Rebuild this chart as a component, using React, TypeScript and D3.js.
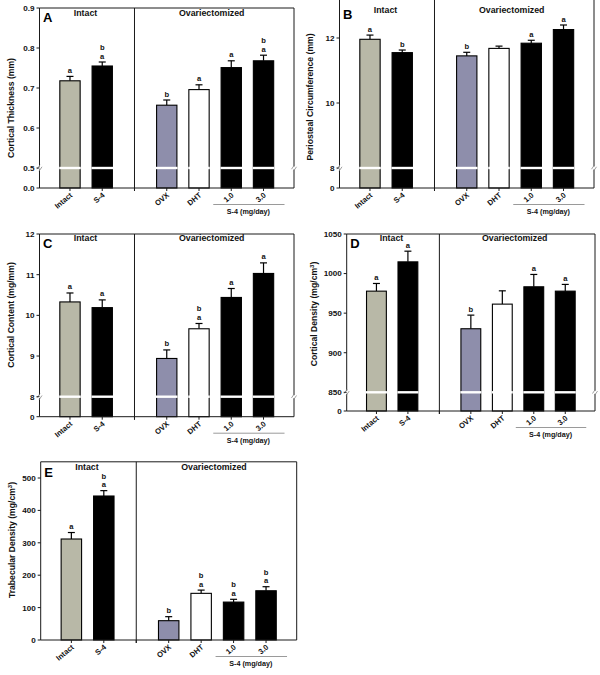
import React from "react";
import * as d3 from "d3";

// ---------- data ----------
const categories = ["Intact", "S-4", "OVX", "DHT", "1.0", "3.0"];
const slots = ["Intact", "S-4", "gap", "OVX", "DHT", "1.0", "3.0"];

const thicknessMean = [0.718, 0.755, 0.657, 0.696, 0.751, 0.768];
const thicknessErr = [0.011, 0.01, 0.013, 0.012, 0.017, 0.014];
const thicknessLetters = [["a"], ["b", "a"], ["b"], ["a"], ["a"], ["b", "a"]];

const periostealMean = [11.96, 11.55, 11.45, 11.68, 11.84, 12.26];
const periostealErr = [0.13, 0.08, 0.11, 0.07, 0.09, 0.14];
const periostealLetters = [["a"], ["b"], ["b"], [], ["a"], ["a"]];

const contentMean = [10.33, 10.19, 8.94, 9.67, 10.44, 11.03];
const contentErr = [0.22, 0.19, 0.21, 0.13, 0.22, 0.26];
const contentLetters = [["a"], ["a"], ["b"], ["b", "a"], ["a"], ["a"]];

const densityMean = [977.8, 1014.8, 930.3, 961.4, 983.3, 977.8];
const densityErr = [9.7, 13.5, 17.2, 16.8, 15.6, 8.5];
const densityLetters = [["a"], ["a"], ["b"], [], ["a"], ["a"]];

const trabMean = [311.7, 444.4, 59.6, 144, 117, 152];
const trabErr = [20, 16.6, 12.4, 10, 8.6, 12.5];
const trabLetters = [["a"], ["b", "a"], ["b"], ["b", "a"], ["b", "a"], ["b", "a"]];

const thicknessTicks = [0.5, 0.6, 0.7, 0.8, 0.9];
const periostealTicks = [8, 10, 12];
const contentTicks = [8, 9, 10, 11, 12];
const densityTicks = [850, 900, 950, 1000, 1050];
const trabTicks = [0, 100, 200, 300, 400, 500];

const groupHeaders = ["Intact", "Ovariectomized"];
const doseLabel = "S-4 (mg/day)";

// ---------- style ----------
const FONT = "'Liberation Sans', Arial, Helvetica, sans-serif";
const barFills = ["#b8b8a7", "#000000", "#8e8eab", "#ffffff", "#000000", "#000000"];

type Cfg = {
  letter: string;
  left: number;
  right: number;
  top: number;
  bottom: number;
  breakY?: number;
  breakVal?: number;
  topVal: number;
  ticks: number[];
  fmt: (v: number) => string;
  yLabel: React.ReactNode;
  yLabelX: number;
  yLabelY: number;
  mean: number[];
  err: number[];
  letters: string[][];
  drawTop: boolean;
  headerY: number;
  letterY: number;
};

function Panel({ cfg }: { cfg: Cfg }) {
  const x = d3
    .scaleBand<string>()
    .domain(slots)
    .range([cfg.left, cfg.right])
    .paddingInner(0.37)
    .paddingOuter(0.63);
  const bw = x.bandwidth();
  const cx = (s: string) => (x(s) as number) + bw / 2;
  const hasBreak = cfg.breakVal !== undefined;
  const upper = d3
    .scaleLinear()
    .domain([hasBreak ? (cfg.breakVal as number) : 0, cfg.topVal])
    .range([hasBreak ? (cfg.breakY as number) : cfg.bottom, cfg.top]);
  const lower = d3
    .scaleLinear()
    .domain([0, hasBreak ? (cfg.breakVal as number) : 1])
    .range([cfg.bottom, hasBreak ? (cfg.breakY as number) : cfg.bottom]);
  const y = (v: number) => (hasBreak && v < (cfg.breakVal as number) ? lower(v) : upper(v));

  const tickVals = hasBreak ? [0, ...cfg.ticks] : cfg.ticks;
  const gapX = cx("gap");
  const axisColor = "#1a1a1a";

  const breakMarks = (ax: number) =>
    hasBreak ? (
      <g>
        <rect x={ax - 1.5} y={(cfg.breakY as number) - 1.5} width={3} height={3} fill="#fff" />
        <line x1={ax - 2.5} y1={(cfg.breakY as number) + 1.2} x2={ax + 0.5} y2={(cfg.breakY as number) - 3.2} stroke="#888" strokeWidth={0.8} />
        <line x1={ax - 0.5} y1={(cfg.breakY as number) + 3.2} x2={ax + 2.5} y2={(cfg.breakY as number) - 1.2} stroke="#888" strokeWidth={0.8} />
      </g>
    ) : null;

  const d10 = cx("1.0");
  const d30 = cx("3.0");

  return (
    <g fontFamily={FONT}>
      {/* bars */}
      {categories.map((c, i) => {
        const bx = x(c) as number;
        const top = y(cfg.mean[i]);
        const etop = y(cfg.mean[i] + cfg.err[i]);
        const mid = bx + bw / 2;
        const lets = cfg.letters[i];
        return (
          <g key={c}>
            <line x1={mid} x2={mid} y1={top} y2={etop} stroke="#000" strokeWidth={1.2} />
            <line x1={mid - 3.5} x2={mid + 3.5} y1={etop} y2={etop} stroke="#000" strokeWidth={1.2} />
            <rect x={bx} y={top} width={bw} height={cfg.bottom - top} fill={barFills[i]} stroke="#000" strokeWidth={1.1} />
            {hasBreak && (
              <rect x={bx - 0.6} y={(cfg.breakY as number) - 1.2} width={bw + 1.2} height={2.4} fill="#fff" />
            )}
            {lets
              .slice()
              .reverse()
              .map((l, k) => (
                <text key={k} x={mid} y={etop - 3.5 - k * 8.6} fontSize={7.6} fontWeight="bold" textAnchor="middle" fill="#111">
                  {l}
                </text>
              ))}
          </g>
        );
      })}
      {/* frame */}
      <line x1={cfg.left} x2={cfg.left} y1={cfg.top} y2={cfg.bottom} stroke={axisColor} strokeWidth={1} />
      <line x1={cfg.right} x2={cfg.right} y1={cfg.top} y2={cfg.bottom} stroke={axisColor} strokeWidth={1} />
      <line x1={cfg.left} x2={cfg.right} y1={cfg.bottom} y2={cfg.bottom} stroke={axisColor} strokeWidth={1} />
      {cfg.drawTop && <line x1={cfg.left} x2={cfg.right} y1={cfg.top} y2={cfg.top} stroke={axisColor} strokeWidth={1} />}
      <line x1={gapX} x2={gapX} y1={cfg.top} y2={cfg.bottom + 3} stroke={axisColor} strokeWidth={1} />
      {breakMarks(cfg.left)}
      {breakMarks(cfg.right)}
      {/* y ticks */}
      {tickVals.map((t) => (
        <g key={t}>
          <line x1={cfg.left - 3} x2={cfg.left} y1={y(t)} y2={y(t)} stroke={axisColor} strokeWidth={1} />
          <text x={cfg.left - 5} y={y(t) + 2.9} fontSize={8.1} fontWeight="bold" textAnchor="end" fill="#111">
            {cfg.fmt(t)}
          </text>
        </g>
      ))}
      {/* x ticks & labels */}
      {slots.map((s) => (
        <line key={s} x1={cx(s)} x2={cx(s)} y1={cfg.bottom} y2={cfg.bottom + 3} stroke={axisColor} strokeWidth={1} />
      ))}
      {categories.map((c) => (
        <text
          key={c}
          transform={`translate(${cx(c) + 3},${cfg.bottom + 8}) rotate(-40)`}
          fontSize={7.6}
          fontWeight="bold"
          textAnchor="end"
          fill="#111"
        >
          {c}
        </text>
      ))}
      <line x1={d10 - 18} x2={d30 + 21} y1={cfg.bottom + 16.5} y2={cfg.bottom + 16.5} stroke="#9a9a9a" strokeWidth={1} />
      <text x={(d10 + d30) / 2 + 1} y={cfg.bottom + 26} fontSize={7.2} fontWeight="bold" textAnchor="middle" fill="#111">
        {doseLabel}
      </text>
      {/* headers */}
      <text x={(cfg.left + gapX) / 2 - 1.5} y={cfg.headerY} fontSize={8.8} fontWeight="bold" textAnchor="middle" fill="#111">
        {groupHeaders[0]}
      </text>
      <text x={(gapX + cfg.right) / 2 - 2.5} y={cfg.headerY} fontSize={8.8} fontWeight="bold" textAnchor="middle" fill="#111">
        {groupHeaders[1]}
      </text>
      <text x={cfg.left + 3.5} y={cfg.letterY} fontSize={13} fontWeight="bold" fill="#000">
        {cfg.letter}
      </text>
      {/* y label */}
      <text
        transform={`translate(${cfg.yLabelX},${cfg.yLabelY}) rotate(-90)`}
        fontSize={8.6}
        fontWeight="bold"
        textAnchor="middle"
        fill="#111"
      >
        {cfg.yLabel}
      </text>
    </g>
  );
}

const f1 = d3.format(".1f");
const f0 = d3.format("d");

const cm3 = (name: string) => (
  <>
    {name} (mg/cm
    <tspan dy={-3} fontSize={6}>3</tspan>
    <tspan dy={3}>)</tspan>
  </>
);

const panels: Cfg[] = [
  {
    letter: "A", left: 39.5, right: 294, top: 8, bottom: 188, breakY: 168, breakVal: 0.5, topVal: 0.9,
    ticks: thicknessTicks, fmt: f1, yLabel: "Cortical Thickness (mm)", yLabelX: 14, yLabelY: 108,
    mean: thicknessMean, err: thicknessErr, letters: thicknessLetters, drawTop: true, headerY: 16, letterY: 21.7,
  },
  {
    letter: "B", left: 339.5, right: 594, top: -1, bottom: 188, breakY: 168, breakVal: 8, topVal: 13.2,
    ticks: periostealTicks, fmt: f0, yLabel: "Periosteal Circumference (mm)", yLabelX: 313, yLabelY: 97,
    mean: periostealMean, err: periostealErr, letters: periostealLetters, drawTop: false, headerY: 13, letterY: 19.2,
  },
  {
    letter: "C", left: 39.5, right: 294, top: 234, bottom: 416.7, breakY: 396.7, breakVal: 8, topVal: 12,
    ticks: contentTicks, fmt: f0, yLabel: "Cortical Content (mg/mm)", yLabelX: 14, yLabelY: 315,
    mean: contentMean, err: contentErr, letters: contentLetters, drawTop: true, headerY: 241, letterY: 248,
  },
  {
    letter: "D", left: 346.7, right: 595, top: 234, bottom: 411, breakY: 392.3, breakVal: 850, topVal: 1050,
    ticks: densityTicks, fmt: f0, yLabel: cm3("Cortical Density"), yLabelX: 317, yLabelY: 314,
    mean: densityMean, err: densityErr, letters: densityLetters, drawTop: true, headerY: 241, letterY: 248,
  },
  {
    letter: "E", left: 40.7, right: 296.7, top: 461.8, bottom: 640, topVal: 550,
    ticks: trabTicks, fmt: f0, yLabel: cm3("Trabecular Density"), yLabelX: 15, yLabelY: 540,
    mean: trabMean, err: trabErr, letters: trabLetters, drawTop: true, headerY: 470, letterY: 477,
  },
];

export default function App() {
  return (
    <svg
      width={600}
      height={675}
      viewBox="0 0 600 675"
      style={{ position: "absolute", left: 0, top: 0, background: "#fff" }}
    >
      <rect x={0} y={0} width={600} height={675} fill="#fff" />
      {panels.map((p) => (
        <Panel key={p.letter} cfg={p} />
      ))}
    </svg>
  );
}
